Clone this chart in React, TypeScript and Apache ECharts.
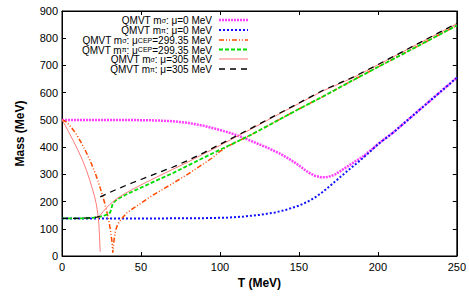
import React, { useEffect, useRef } from "react";
import * as echarts from "echarts";

// Temperature T (MeV) / mass (MeV) pairs
const sigmaMu0: (number[] | string)[] = [[0,500],[20,500],[40,500],[60,498],[70,495],[80,489],[90,478],[100,463],[106,453],[112,441],[120,422],[130,398],[138,376],[144,356],[148,341],[152,324],[156,307],[160,295],[164,289],[167,289],[170,293],[173,300],[176,311],[180,326],[185,345],[190,363],[195,386],[200,411],[210,455],[220,505],[230,555],[240,605],[250,655]];
const piMu0: (number[] | string)[] = [[0,138],[60,138],[90,139],[105,141],[115,145],[125,151],[135,160],[142,170],[150,185],[155,198],[160,214],[165,235],[170,259],[175,284],[180,309],[185,333],[190,357],[195,383],[200,410],[210,455],[220,505],[230,555],[240,605],[250,655]];
const sigmaCEP: (number[] | string)[] = [[0,500],[3,492],[6,472],[9,448],[12,418],[15,385],[18,348],[21,305],[23,272],[25,235],[27,195],[28.5,160],[29.8,125],[30.8,90],[31.6,55],[32.2,12],[32.6,40],[33.2,70],[34,95],[35,112],[36.5,128],[38.5,142],[41,158],[45,175],[50,194],[55,214],[60,232],[65,249],[70,266],[75,284],[80,302],[85,321],[90,340],[95,360],[100,384],[105,403],[110,418],[120,446],[135,493],[150,540],[165,585],[184,645],[200,694],[225,770],[250,847]];
const piCEP: (number[] | string)[] = [[0,138],[10,138],[18,139],[22,142],[26,147],[29,153],[30.5,160],[31.3,175],[32,190],[33,199],[35,208],[40,224],[45,238],[50,251],[60,278],[70,304],[80,333],[90,362],[95,376],[100,390],[105,404],[110,418],[120,446],[135,493],[150,540],[165,585],[184,645],[200,694],[225,770],[250,847]];
const sigmaMu305: (number[] | string)[] = [[0,500],[2,480],[4,458],[7,425],[10,390],[13,352],[15.5,315],[17.5,280],[19.2,248],[20.7,217],[21.8,188],[22.7,155],[23.3,120],[23.7,80],[24,40],[24.2,16],"-",[22.8,140],[24,148],[26,163],[28,176],[30,188],[32,198],[35,212],[40,230],[45,246],[50,261],[60,290],[70,318],[80,346],[90,376],[100,406],[110,437],[120,467],[135,514],[150,560],[165,606],[184,654],[200,702],[225,778],[250,853]];
const piMu305: (number[] | string)[] = [[0,138],[10,138],[18,140],[22,143],[23.9,146],"-",[24.2,217],[30,233],[35,246],[40,258],[45,270],[50,281],[60,304],[70,326],[80,352],[90,380],[100,410],[110,440],[120,470],[135,516],[150,562],[165,608],[184,656],[200,703],[225,779],[250,855]];

const xTicks = { min: 0, max: 250, interval: 50 };
const yTicks = { min: 0, max: 900, interval: 100 };

const legendLabels = [
  "{n|QMVT m}{s|σ}{n|: μ=0 MeV}",
  "{n|QMVT m}{s|π}{n|: μ=0 MeV}",
  "{n|QMVT m}{s|σ}{n|: μ}{s|CEP}{n|=299.35 MeV}",
  "{n|QMVT m}{s|π}{n|: μ}{s|CEP}{n|=299.35 MeV}",
  "{n|QMVT m}{s|σ}{n|: μ=305 MeV}",
  "{n|QMVT m}{s|π}{n|: μ=305 MeV}",
];

const styles = [
  { color: "#ff40ff", width: 2.5, type: [2, 1] as any },
  { color: "#1010ff", width: 2, type: [2, 2] as any },
  { color: "#ff4a00", width: 1.5, type: [5, 2, 1, 2, 1, 2] as any },
  { color: "#00dd00", width: 1.8, type: [4, 2] as any },
  { color: "#ff7a7a", width: 1, type: "solid" as any },
  { color: "#000000", width: 1.3, type: [6, 5] as any },
];

const seriesData = [sigmaMu0, piMu0, sigmaCEP, piCEP, sigmaMu305, piMu305];

export default function App() {
  const ref = useRef<HTMLDivElement>(null);
  useEffect(() => {
    if (!ref.current) return;
    const chart = echarts.init(ref.current, undefined, { renderer: "svg" });
    const font = "Liberation Sans, Arial, Helvetica, sans-serif";
    const legendEls: any[] = [];
    const rowY = [20, 30, 40, 49.5, 59, 69];
    legendLabels.forEach((lab, i) => {
      legendEls.push({
        type: "text",
        x: 212,
        y: rowY[i] - 0.5,
        style: {
          text: lab,
          align: "right",
          verticalAlign: "middle",
          fontFamily: font,
          fill: "#000",
          rich: {
            n: { fontSize: 10, fontFamily: font, lineHeight: 8, verticalAlign: "top", fill: "#000" },
            s: { fontSize: 7, fontFamily: font, lineHeight: 4, verticalAlign: "bottom", fill: "#000" },
          },
        },
      });
      const st = styles[i];
      legendEls.push({
        type: "line",
        shape: { x1: 219, y1: rowY[i], x2: 248, y2: rowY[i] },
        style: {
          stroke: st.color,
          lineWidth: st.width,
          lineDash: Array.isArray(st.type) ? st.type : null,
        },
      });
    });

    const axisCommon = {
      type: "value" as const,
      splitLine: { show: false },
      axisLine: { show: true, onZero: false, lineStyle: { color: "#000", width: 1 } },
      axisTick: { show: true, inside: true, length: 4, lineStyle: { color: "#000" } },
    };

    chart.setOption({
      animation: false,
      textStyle: { fontFamily: font },
      grid: { left: 62, right: 12, top: 11, bottom: 49, show: true, borderColor: "#000", borderWidth: 1 },
      xAxis: [
        {
          ...axisCommon,
          ...xTicks,
          position: "bottom",
          axisLabel: { color: "#000", fontSize: 11, margin: 5, fontFamily: font },
          name: "T (MeV)",
          nameLocation: "middle",
          nameGap: 20,
          nameTextStyle: { color: "#000", fontSize: 12, fontWeight: "bold", fontFamily: font },
        },
        { ...axisCommon, ...xTicks, position: "top", axisLabel: { show: false } },
      ],
      yAxis: [
        {
          ...axisCommon,
          ...yTicks,
          position: "left",
          axisLabel: { color: "#000", fontSize: 11, margin: 4, fontFamily: font },
          name: "Mass (MeV)",
          nameLocation: "middle",
          nameGap: 36,
          nameTextStyle: { color: "#000", fontSize: 12, fontWeight: "bold", fontFamily: font },
        },
        { ...axisCommon, ...yTicks, position: "right", axisLabel: { show: false } },
      ],
      series: seriesData.map((d, i) => ({
        type: "line",
        name: legendLabels[i],
        xAxisIndex: 0,
        yAxisIndex: 0,
        data: d,
        showSymbol: false,
        connectNulls: false,
        lineStyle: { color: styles[i].color, width: styles[i].width, type: styles[i].type },
        z: 2 + i,
      })),
      graphic: [{ type: "group", children: legendEls, z: 100 }],
    });
    return () => chart.dispose();
  }, []);
  return <div ref={ref} style={{ width: 469, height: 305, position: "absolute", left: 0, top: 0 }} />;
}
